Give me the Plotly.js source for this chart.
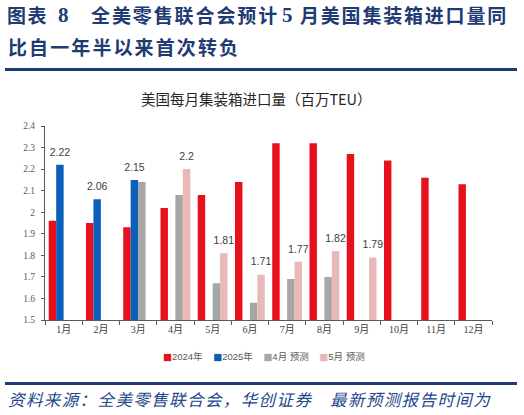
<!DOCTYPE html>
<html><head><meta charset="utf-8">
<script src="https://cdn.plot.ly/plotly-3.0.1.min.js"></script>
<style>
html,body{margin:0;padding:0;background:#fff;}
#wrap{position:relative;width:524px;height:415px;overflow:hidden;}
#chart{position:absolute;left:0;top:0;width:524px;height:415px;}
.t{position:absolute;white-space:nowrap;font-family:"Noto Sans CJK SC";line-height:1;}
.h{font-size:19px;font-weight:700;color:#1f3b73;}
.n{font-family:"Liberation Serif";font-weight:700;font-size:21px;color:#1f3b73;}
.f{font-size:16.5px;font-style:italic;color:#23478a;letter-spacing:1.4px;}
.rule{position:absolute;left:5px;width:512px;background:#1f3b73;}
</style></head><body>
<div id="wrap">
<div id="chart"></div>
<div class="t h" style="left:7px;top:5px;letter-spacing:1.5px;">图表</div>
<div class="t n" style="left:58px;top:5px;">8</div>
<div class="t h" style="left:91px;top:5px;letter-spacing:1.9px;">全美零售联合会预计</div>
<div class="t n" style="left:282px;top:5px;">5</div>
<div class="t h" style="left:300px;top:5px;letter-spacing:1.8px;">月美国集装箱进口量同</div>
<div class="t h" style="left:8px;top:37px;letter-spacing:2.1px;">比自一年半以来首次转负</div>
<div class="rule" style="top:68px;height:3px;"></div>
<div class="rule" style="top:382px;height:2.5px;"></div>
<div class="t f" style="left:8px;top:391px;">资料来源：全美零售联合会，华创证券</div>
<div class="t f" style="left:330px;top:391px;">最新预测报告时间为</div>
</div>
<script>
const months = ['1月','2月','3月','4月','5月','6月','7月','8月','9月','10月','11月','12月'];
const imports2024 = [1.96,1.95,1.93,2.02,2.08,2.14,2.32,2.32,2.27,2.24,2.16,2.13];
const imports2025 = [2.22,2.06,2.15,null,null,null,null,null,null,null,null,null];
const forecastApr = [null,null,2.14,2.08,1.67,1.58,1.69,1.70,null,null,null,null];
const forecastMay = [null,null,null,2.20,1.81,1.71,1.77,1.82,1.79,null,null,null];
const seriesNames = ['2024年','2025年','4月 预测','5月 预测'];
const seriesColors = ['#e5121d','#0b5fb8','#a6a6a6','#e8b9b9'];
const showLabels = [false,true,false,true];
const yTickVals = [1.5,1.6,1.7,1.8,1.9,2.0,2.1,2.2,2.3,2.4];
const yTickText = ['1.5','1.6','1.7','1.8','1.9','2','2.1','2.2','2.3','2.4'];
const chartTitle = '美国每月集装箱进口量（百万TEU）';

const seriesValues = [imports2024, imports2025, forecastApr, forecastMay];
const bars = seriesValues.map((vals,i)=>({
  type:'bar', x:months, y:vals, name:seriesNames[i],
  offsetgroup:String(i), alignmentgroup:'a',
  marker:{color:seriesColors[i]},
  hoverinfo:'skip', showlegend:false
}));
const labels = seriesValues.map((vals,i)=>({
  type:'scatter', mode:'markers+text', x:months, y:vals, name:seriesNames[i]+' 标签',
  offsetgroup:String(i), alignmentgroup:'a',
  text: vals.map(v => (showLabels[i] && v !== null) ? String(v) : ''),
  textposition:'top center', cliponaxis:false,
  marker:{size:9, color:'rgba(0,0,0,0)'},
  textfont:{family:'Liberation Sans', size:10.5, color:'#404040'},
  hoverinfo:'skip', showlegend:false
}));

const legendText = seriesNames.map((n,i)=>
  `<span style="color:${seriesColors[i]};font-family:'DejaVu Sans'">■</span>${n}`).join('&nbsp;&nbsp;&nbsp;&nbsp;');

const layout = {
  width:524, height:415,
  margin:{l:45, r:32, t:126, b:95, pad:0},
  paper_bgcolor:'rgba(0,0,0,0)', plot_bgcolor:'rgba(0,0,0,0)',
  barmode:'group', bargap:0.2, bargroupgap:0,
  scattermode:'group', scattergap:0.2,
  title:{text:chartTitle, x:0.489, xref:'container', xanchor:'center', y:1-100/415, yref:'container', yanchor:'middle',
    font:{family:'Noto Sans CJK SC', size:14.5, color:'#262626'}},
  xaxis:{type:'category', showline:true, linecolor:'#595959', linewidth:1, ticks:'outside', tickson:'boundaries',
    ticklen:4, tickcolor:'#595959', showgrid:false, zeroline:false,
    tickfont:{family:'Liberation Serif, Noto Sans CJK SC', size:10, color:'#404040'}},
  yaxis:{range:[1.5,2.4], tickvals:yTickVals, ticktext:yTickText, showline:true, linecolor:'#595959', linewidth:1,
    ticks:'outside', ticklen:3, tickcolor:'#595959', showgrid:false, zeroline:false, ticklabelstandoff:4,
    tickfont:{family:'Liberation Serif', size:9.5, color:'#595959'}},
  annotations:[{xref:'paper', yref:'paper', x:0.489, y:(320-356)/194, xanchor:'center', yanchor:'middle',
    showarrow:false, text:legendText, font:{family:'Liberation Sans, Noto Sans CJK SC', size:9.5, color:'#595959'}}]
};
Plotly.newPlot('chart', bars.concat(labels), layout, {displayModeBar:false, staticPlot:true});
</script>
</body></html>
